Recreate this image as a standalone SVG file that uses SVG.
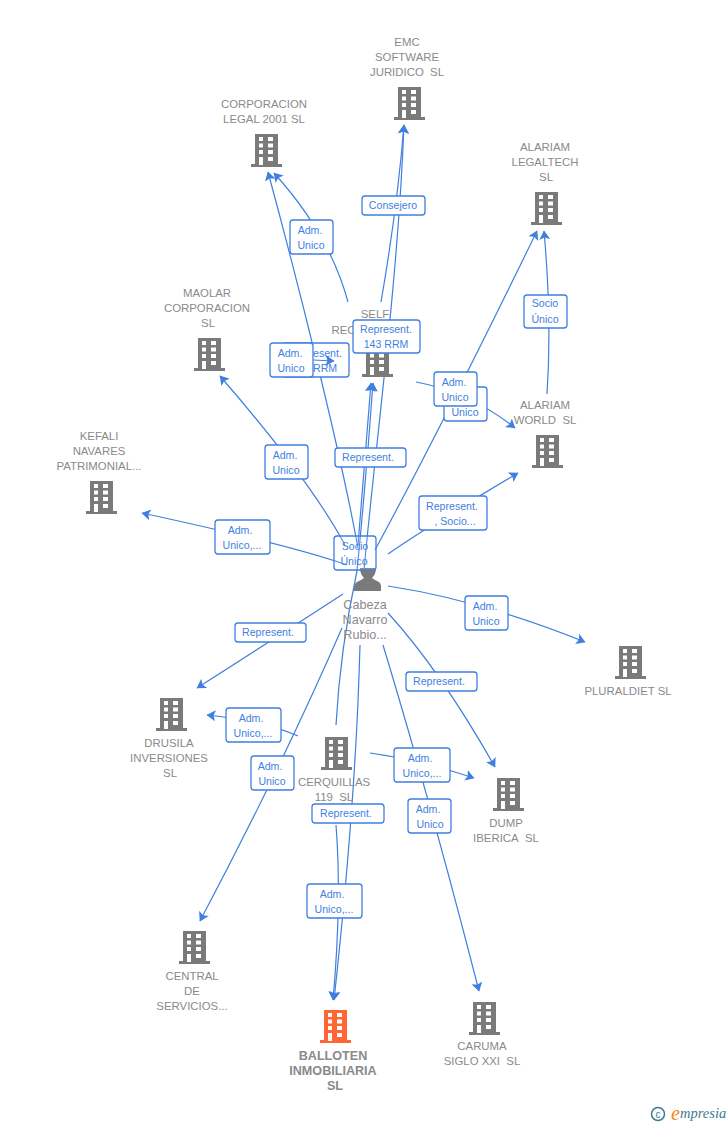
<svg xmlns="http://www.w3.org/2000/svg" width="728" height="1125" viewBox="0 0 728 1125">
<style>
text{font-family:"Liberation Sans",Arial,sans-serif}
.n{font-size:11.4px;fill:#8a8a8a;text-anchor:middle}
.b{font-size:12.6px;font-weight:bold;fill:#8a8a8a;text-anchor:middle}
.p{font-size:12.6px;fill:#8a8a8a;text-anchor:middle}
.c{fill:none;stroke:#3f7fdf;stroke-width:1.2}
.ca{marker-end:url(#ah)}
.lb{fill:#fff;stroke:#3f7fdf;stroke-width:1.3}
.lt{font-size:10.6px;fill:#3f7fdf;text-anchor:middle}
.ls{font-size:10.6px;fill:#3f7fdf}
</style>
<defs>
<marker id="ah" markerUnits="userSpaceOnUse" markerWidth="12" markerHeight="13" refX="8.500" refY="6" orient="auto">
<path d="M0 0.500L9 6L0 11.500L2 6Z" fill="#3f7fdf"/>
</marker>
<symbol id="bld" overflow="visible">
<rect x="-10" y="1" width="21" height="30" fill="#fff"/>
<path fill-rule="evenodd" d="M-11 0H12V30H16V33H-15V30H-11ZM-7 3V7H-3V3ZM2 3V7H7V3ZM-7 9.500V13.500H-3V9.500ZM2 9.500V13.500H7V9.500ZM-7 16V20H-3V16ZM2 16V20H7V16ZM-7 23V31H-3V23ZM2 23V27H7V23Z"/>
</symbol>
</defs>
<g id="connectors">
<path class="c ca" d="M348 302Q330 235 274 173"/>
<path class="c ca" d="M381 302Q397 210 404 125"/>
<path class="c ca" d="M364 570C376 440 398 280 404 125"/>
<path class="c ca" d="M358 548C340 450 300 290 268 172"/>
<path class="c ca" d="M336 725Q340 650 357 571Q366 480 373 383"/>
<path class="c ca" d="M358 545L371 383"/>
<path class="c ca" d="M375 550Q440 430 537 231"/>
<path class="c ca" d="M547 394Q552 320 544 231"/>
<path class="c ca" d="M416 382Q470 392 515 428"/>
<path class="c ca" d="M388 554Q430 525 518 473"/>
<path class="c ca" d="M345 545Q310 480 220 376"/>
<path class="c ca" d="M347 565Q290 545 142 513"/>
<path class="c ca" d="M343 594Q280 635 197 688"/>
<path class="c ca" d="M388 586Q480 600 585 642"/>
<path class="c ca" d="M388 613Q440 670 495 767"/>
<path class="c ca" d="M383 645Q430 800 479 991"/>
<path class="c ca" d="M342 628Q280 770 200 921"/>
<path class="c ca" d="M360 645Q356 800 334 1000"/>
<path class="c ca" d="M336 825Q342 900 333 1000"/>
<path class="c ca" d="M298 736Q260 720 207 715"/>
<path class="c ca" d="M370 753Q420 760 474 778"/>
</g>
<g id="node-emc" fill="#7a7a7a"><use href="#bld" x="409" y="87"/><text class="n" x="407" y="46">EMC</text><text class="n" x="407" y="61">SOFTWARE</text><text class="n" x="407" y="76">JURIDICO&#160; SL</text></g>
<g id="node-corporacion" fill="#7a7a7a"><use href="#bld" x="266" y="134"/><text class="n" x="264" y="108">CORPORACION</text><text class="n" x="264" y="123">LEGAL 2001 SL</text></g>
<g id="node-legaltech" fill="#7a7a7a"><use href="#bld" x="546" y="192"/><text class="n" x="545" y="151">ALARIAM</text><text class="n" x="545" y="166">LEGALTECH</text><text class="n" x="546" y="181">SL</text></g>
<g id="node-maolar" fill="#7a7a7a"><use href="#bld" x="209" y="338"/><text class="n" x="207" y="297">MAOLAR</text><text class="n" x="207" y="312">CORPORACION</text><text class="n" x="208" y="327">SL</text></g>
<g id="node-self" fill="#7a7a7a"><use href="#bld" x="377" y="344"/><text class="n" x="375" y="318">SELF</text><text class="n" x="343.500" y="334">REC</text></g>
<g id="node-world" fill="#7a7a7a"><use href="#bld" x="547" y="435"/><text class="n" x="545" y="409">ALARIAM</text><text class="n" x="545" y="424">WORLD&#160; SL</text></g>
<g id="node-kefali" fill="#7a7a7a"><use href="#bld" x="101" y="481"/><text class="n" x="99" y="440">KEFALI</text><text class="n" x="99" y="455">NAVARES</text><text class="n" x="99" y="470">PATRIMONIAL...</text></g>
<g id="node-pluraldiet" fill="#7a7a7a"><use href="#bld" x="630" y="646"/><text class="n" x="628" y="695">PLURALDIET SL</text></g>
<g id="node-drusila" fill="#7a7a7a"><use href="#bld" x="171" y="698"/><text class="n" x="169" y="747">DRUSILA</text><text class="n" x="169" y="762">INVERSIONES</text><text class="n" x="170" y="777">SL</text></g>
<g id="node-cerquillas" fill="#7a7a7a"><use href="#bld" x="336" y="737"/><text class="n" x="334" y="786">CERQUILLAS</text><text class="n" x="334" y="801">119&#160; SL</text></g>
<g id="node-dump" fill="#7a7a7a"><use href="#bld" x="508" y="778"/><text class="n" x="506" y="827">DUMP</text><text class="n" x="506" y="842">IBERICA&#160; SL</text></g>
<g id="node-central" fill="#7a7a7a"><use href="#bld" x="194" y="931"/><text class="n" x="192" y="980">CENTRAL</text><text class="n" x="192" y="995">DE</text><text class="n" x="192" y="1010">SERVICIOS...</text></g>
<g id="node-balloten" fill="#ff6633"><use href="#bld" x="335" y="1010"/><text class="b" x="333" y="1060">BALLOTEN</text><text class="b" x="333" y="1075">INMOBILIARIA</text><text class="b" x="335" y="1090">SL</text></g>
<g id="node-caruma" fill="#7a7a7a"><use href="#bld" x="484" y="1002"/><text class="n" x="482" y="1050">CARUMA</text><text class="n" x="482" y="1065">SIGLO XXI&#160; SL</text></g>
<g id="node-person"><path fill="#7a7a7a" d="M354 591V586Q355 582 361 580L364 578Q360 574 360 568H376Q376 574 372 578L375 580Q381 582 381 586V591Z"/><text class="p" x="365" y="609">Cabeza</text><text class="p" x="365" y="624">Navarro</text><text class="p" x="365" y="639">Rubio...</text></g>
<g id="labels">
<rect class="lb" x="283" y="343" width="66" height="34" rx="3"/><text class="ls" x="313" y="357">esent.</text><text class="ls" x="313" y="372">RRM</text>
<path class="c ca" d="M313 360L334 361"/>
<rect class="lb" x="270" y="343" width="43" height="34" rx="3"/><text class="lt" x="290" y="357">Adm.</text><text class="lt" x="291" y="372">Unico</text>
<rect class="lb" x="290" y="220" width="43" height="34" rx="3"/><text class="lt" x="310" y="234">Adm.</text><text class="lt" x="311" y="249">Unico</text>
<rect class="lb" x="362" y="196" width="63" height="19" rx="3"/><text class="lt" x="393" y="209">Consejero</text>
<rect class="lb" x="353" y="320" width="67" height="33" rx="3"/><text class="lt" x="386" y="333">Represent.</text><text class="lt" x="386" y="348">143 RRM</text>
<rect class="lb" x="444" y="387" width="43" height="34" rx="3"/><text class="lt" x="465" y="416">Unico</text>
<rect class="lb" x="434" y="372" width="43" height="34" rx="3"/><text class="lt" x="454" y="386">Adm.</text><text class="lt" x="455" y="401">Unico</text>
<rect class="lb" x="524" y="295" width="43" height="33" rx="3"/><text class="lt" x="545" y="307">Socio</text><text class="lt" x="545" y="323">Único</text>
<rect class="lb" x="335" y="448" width="71" height="19" rx="3"/><text class="lt" x="368" y="461">Represent.</text>
<rect class="lb" x="265" y="445" width="43" height="34" rx="3"/><text class="lt" x="285" y="459">Adm.</text><text class="lt" x="286" y="474">Unico</text>
<rect class="lb" x="419" y="496" width="68" height="34" rx="3"/><text class="lt" x="452" y="510">Represent.</text><text class="lt" x="455" y="525">, Socio...</text>
<rect class="lb" x="215" y="520" width="55" height="34" rx="3"/><text class="lt" x="240" y="534">Adm.</text><text class="lt" x="242" y="549">Unico,...</text>
<rect class="lb" x="334" y="536" width="42" height="34" rx="3" fill-opacity="0.15"/><text class="lt" x="355" y="550">Socio</text><text class="lt" x="354" y="565">Único</text>
<rect class="lb" x="465" y="596" width="43" height="34" rx="3"/><text class="lt" x="485" y="610">Adm.</text><text class="lt" x="486" y="625">Unico</text>
<rect class="lb" x="235" y="623" width="71" height="19" rx="3"/><text class="lt" x="268" y="636">Represent.</text>
<rect class="lb" x="406" y="672" width="71" height="19" rx="3"/><text class="lt" x="439" y="685">Represent.</text>
<rect class="lb" x="226" y="708" width="55" height="34" rx="3"/><text class="lt" x="251" y="722">Adm.</text><text class="lt" x="253" y="737">Unico,...</text>
<rect class="lb" x="394" y="748" width="56" height="34" rx="3"/><text class="lt" x="420" y="762">Adm.</text><text class="lt" x="422" y="777">Unico,...</text>
<rect class="lb" x="251" y="756" width="43" height="34" rx="3"/><text class="lt" x="270" y="770">Adm.</text><text class="lt" x="272" y="785">Unico</text>
<rect class="lb" x="312" y="804" width="72" height="19" rx="3"/><text class="lt" x="346" y="817">Represent.</text>
<rect class="lb" x="408" y="799" width="43" height="34" rx="3"/><text class="lt" x="428" y="813">Adm.</text><text class="lt" x="430" y="828">Unico</text>
<rect class="lb" x="307" y="884" width="55" height="34" rx="3"/><text class="lt" x="332" y="898">Adm.</text><text class="lt" x="334" y="913">Unico,...</text>
</g>
<g id="brand">
<circle cx="658" cy="1114" r="6.500" fill="none" stroke="#3d7a94" stroke-width="1.500"/>
<text x="658" y="1117.500" font-size="10" fill="#3d7a94" text-anchor="middle">c</text>
<text x="671" y="1120" style="font-family:'Liberation Serif',serif" font-size="20" font-style="italic" fill="#f08a24">e</text>
<text x="680" y="1118" style="font-family:'Liberation Serif',serif" font-size="14.500" font-style="italic" fill="#3d7a94">mpresia</text>
</g>
</svg>
